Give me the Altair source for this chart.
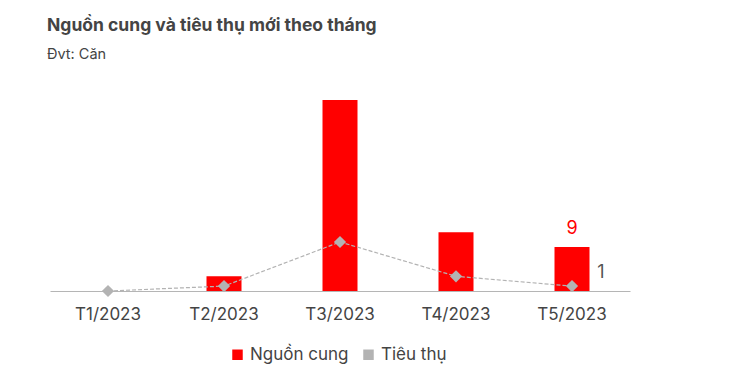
import altair as alt
import pandas as pd

months = ["T1/2023", "T2/2023", "T3/2023", "T4/2023", "T5/2023"]
supply = [0, 3, 39, 12, 9]
consumption = [0, 1, 10, 3, 1]
series_names = ["Nguồn cung", "Tiêu thụ"]
colors = ["#ff0000", "#b3b3b3"]

df = pd.DataFrame({"month": months, "supply": supply, "consumption": consumption})
df["s1"] = series_names[0]

FONT = "Inter"

x = alt.X(
    "month:N",
    sort=months,
    scale=alt.Scale(paddingInner=0.7, paddingOuter=0.35),
    axis=alt.Axis(
        title=None, labelAngle=0, ticks=False, domainColor="#b5b5b5", domainWidth=1.2,
        labelFontSize=17, labelColor="#444444", labelPadding=15, labelFont=FONT, grid=False,
    ),
)
y_scale = alt.Scale(domain=[0, 40])

base = alt.Chart(df)

bars = base.mark_bar(size=35).encode(
    x=x,
    y=alt.Y("supply:Q", scale=y_scale, axis=None),
    color=alt.Color(
        "s1:N",
        scale=alt.Scale(domain=series_names, range=colors),
        legend=alt.Legend(
            title=None, orient="none", legendX=179, legendY=251, direction="horizontal",
            symbolType="square", symbolSize=110, symbolStrokeWidth=0,
            labelFontSize=17, labelColor="#444444", labelFont=FONT, columnPadding=11,
            symbolOpacity=1,
        ),
    ),
)

line = base.mark_line(color="#b3b3b3", strokeDash=[4, 2], strokeWidth=1.2).encode(
    x=x, y=alt.Y("consumption:Q", scale=y_scale, axis=None)
)
points = base.mark_point(shape="diamond", filled=True, size=150, color="#b3b3b3", opacity=1).encode(
    x=x, y=alt.Y("consumption:Q", scale=y_scale, axis=None)
)

last = base.transform_filter(alt.datum.month == months[-1])
lab_supply = last.mark_text(color="#ff0000", fontSize=18, font=FONT, baseline="bottom", dy=-9).encode(
    x=x, y=alt.Y("supply:Q", scale=y_scale, axis=None), text="supply:Q"
)
lab_cons = last.mark_text(color="#555555", fontSize=18, font=FONT, baseline="middle", dx=29, dy=-13).encode(
    x=x, y=alt.Y("consumption:Q", scale=y_scale, axis=None), text="consumption:Q"
)

chart = alt.layer(bars, line, points, lab_supply, lab_cons).properties(
    width=580,
    height=196,
    autosize=alt.AutoSizeParams(type="none"),
    padding={"left": 42, "top": 87, "right": 95, "bottom": 90},
    title=alt.TitleParams(
        "Nguồn cung và tiêu thụ mới theo tháng",
        subtitle="Đvt: Căn",
        anchor="start",
        font=FONT,
        fontSize=17.5,
        fontWeight="bold",
        color="#444444",
        subtitleFont=FONT,
        subtitleFontSize=14.5,
        subtitleColor="#444444",
        subtitlePadding=13,
        offset=34,
        dx=-3,
    ),
).configure_view(stroke=None)

chart.save("out.html", embed_options={"renderer": "svg", "actions": False})
